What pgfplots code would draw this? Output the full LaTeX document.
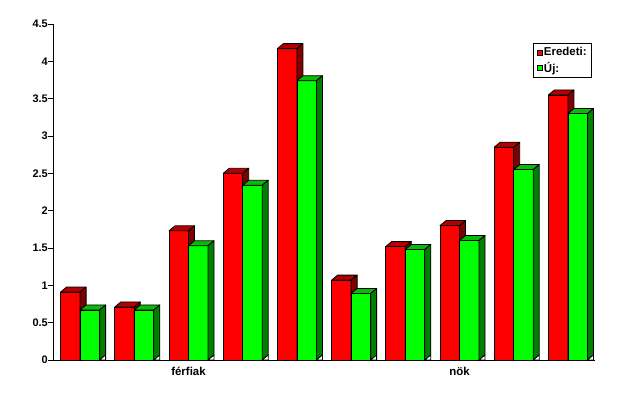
\documentclass[border=0pt]{standalone}
\usepackage{fontspec}
\setmainfont{Liberation Sans}
\usepackage{pgfplots}
\pgfplotsset{compat=1.18}

\definecolor{barred}{RGB}{255,0,0}
\definecolor{barredtop}{RGB}{180,0,0}
\definecolor{barredside}{RGB}{128,0,0}
\definecolor{bargreen}{RGB}{0,255,0}
\definecolor{bargreentop}{RGB}{10,185,10}
\definecolor{bargreenside}{RGB}{0,128,0}

\newcommand{\barmark}[4]{%
  \pgfmathsetmacro\barH{\yv*74.6667}%
  \pgfmathsetmacro\barL{#1}%
  \pgfmathsetmacro\barR{#1+19.5}%
  \pgfmathsetmacro\barLd{#1+6}%
  \pgfmathsetmacro\barRd{#1+25.5}%
  \pgfmathsetmacro\barB{-\barH}%
  \pgfmathsetmacro\barBd{-\barH+5}%
  \pgfsetlinewidth{0.8bp}%
  \pgfsetstrokecolor{black}%
  \pgfsetroundjoin
  % front
  \pgfsetfillcolor{#2}%
  \pgfpathrectanglecorners{\pgfpoint{\barL bp}{\barB bp}}{\pgfpoint{\barR bp}{0bp}}%
  \pgfusepath{fill,stroke}%
  % top
  \pgfsetfillcolor{#3}%
  \pgfpathmoveto{\pgfpoint{\barL bp}{0bp}}%
  \pgfpathlineto{\pgfpoint{\barLd bp}{5bp}}%
  \pgfpathlineto{\pgfpoint{\barRd bp}{5bp}}%
  \pgfpathlineto{\pgfpoint{\barR bp}{0bp}}%
  \pgfpathclose
  \pgfusepath{fill,stroke}%
  % side
  \pgfsetfillcolor{#4}%
  \pgfpathmoveto{\pgfpoint{\barR bp}{0bp}}%
  \pgfpathlineto{\pgfpoint{\barRd bp}{5bp}}%
  \pgfpathlineto{\pgfpoint{\barRd bp}{\barBd bp}}%
  \pgfpathlineto{\pgfpoint{\barR bp}{\barB bp}}%
  \pgfpathclose
  \pgfusepath{fill,stroke}%
  % floor triangle
  \pgfsetfillcolor{white}%
  \pgfpathmoveto{\pgfpoint{\barR bp}{\barB bp}}%
  \pgfpathlineto{\pgfpoint{\barRd bp}{\barBd bp}}%
  \pgfpathlineto{\pgfpoint{\barRd bp}{\barB bp}}%
  \pgfpathclose
  \pgfusepath{fill,stroke}%
}
\pgfdeclareplotmark{redbar}{\barmark{-19.5}{barred}{barredtop}{barredside}}
\pgfdeclareplotmark{greenbar}{\barmark{0}{bargreen}{bargreentop}{bargreenside}}

\pgfplotstableread{
x y
0 0.91
1 0.71
2 1.73
3 2.50
4 4.17
5 1.07
6 1.52
7 1.80
8 2.85
9 3.55
}\eredeti
\pgfplotstableread{
x y
0 0.67
1 0.67
2 1.53
3 2.34
4 3.74
5 0.89
6 1.48
7 1.60
8 2.55
9 3.30
}\uj

\begin{document}
\begin{tikzpicture}
\useasboundingbox (0,0) rectangle (634bp,399bp);
\begin{axis}[
  at={(53bp,39bp)}, anchor=south west,
  scale only axis, width=542bp, height=336bp,
  xmin=-0.5, xmax=9.5, ymin=0, ymax=4.5,
  axis x line*=bottom, axis y line*=left,
  axis line style={-, black, line width=0.8bp},
  clip=false,
  ytick={0,0.5,1,1.5,2,2.5,3,3.5,4,4.5},
  yticklabels={0,0.5,1,1.5,2,2.5,3,3.5,4,4.5},
  ytick style={black, line width=0.8bp},
  tick align=outside, major tick length=4.5bp,
  yticklabel style={font=\fontsize{11}{13}\selectfont\bfseries, inner sep=0.5bp},
  xtick={2,7}, xticklabels={férfiak,nök},
  xtick style={draw=none},
  xticklabel style={font=\fontsize{11.5}{13}\selectfont\bfseries, inner sep=1bp, yshift=-1bp},
  legend style={at={(0.8865,0.9426)}, anchor=north west, draw=black, line width=0.8bp,
    font=\fontsize{11.5}{13}\selectfont\bfseries, inner xsep=3bp, inner ysep=2.5bp,
    row sep=1.5bp,
    nodes={inner sep=1.5bp}},
  legend cell align=left,
]
\addplot[only marks, mark=redbar, visualization depends on={rawy \as \yv},
  legend image code/.code={\draw[fill=barred, draw=black, line width=0.6bp] (0bp,-2.5bp) rectangle (5bp,2.5bp);}]
  table[x=x, y=y] {\eredeti};
\addlegendentry{Eredeti:}
\addplot[only marks, mark=greenbar, visualization depends on={rawy \as \yv},
  legend image code/.code={\draw[fill=bargreen, draw=black, line width=0.6bp] (0bp,-2.5bp) rectangle (5bp,2.5bp);}]
  table[x=x, y=y] {\uj};
\addlegendentry{Új:}
\end{axis}
\end{tikzpicture}
\end{document}
